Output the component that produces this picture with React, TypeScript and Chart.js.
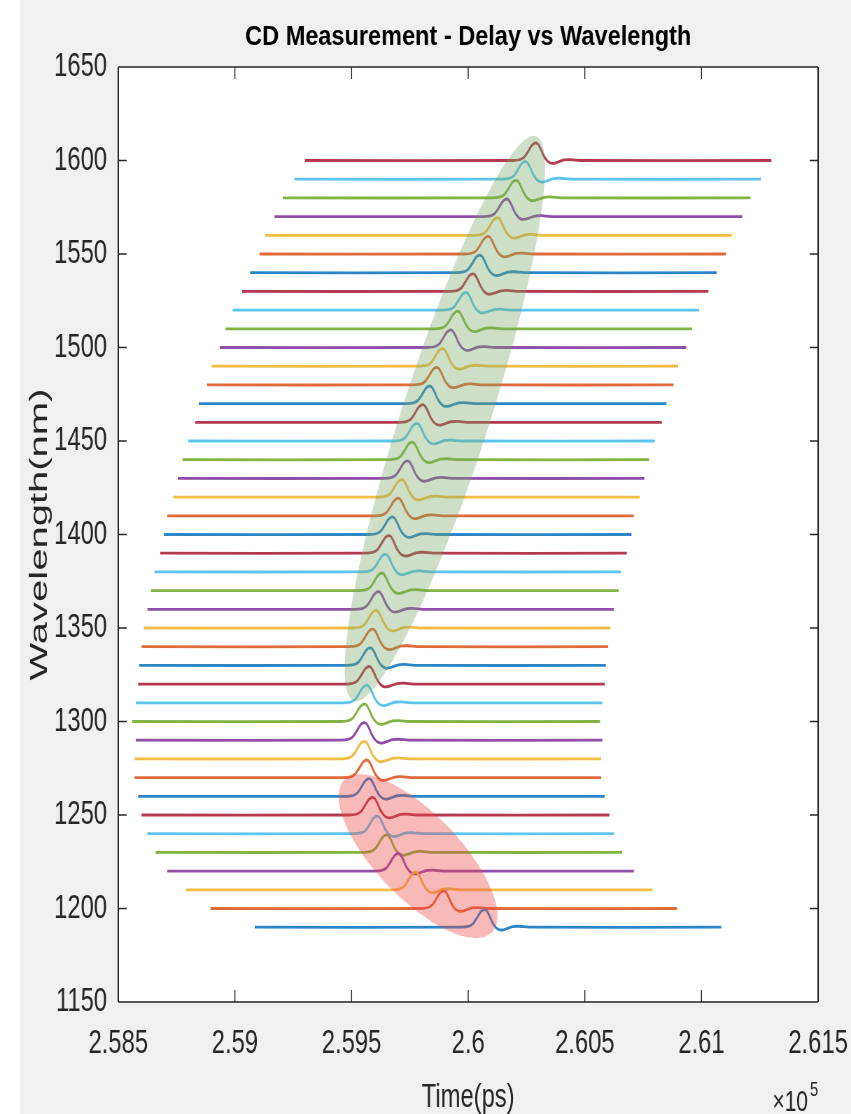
import React, { useEffect, useRef } from "react";
import { Chart, registerables } from "chart.js";

Chart.register(...registerables);

// ---------- data ----------
const WAVELENGTHS = [
  1190, 1200, 1210, 1220, 1230, 1240, 1250, 1260, 1270, 1280, 1290, 1300, 1310, 1320,
  1330, 1340, 1350, 1360, 1370, 1380, 1390, 1400, 1410, 1420, 1430, 1440, 1450, 1460,
  1470, 1480, 1490, 1500, 1510, 1520, 1530, 1540, 1550, 1560, 1570, 1580, 1590, 1600,
];

// trace start time (ps)
const START_PS = [
  259085, 258895, 258790, 258710, 258660, 258625, 258600, 258585, 258570, 258570, 258575,
  258560, 258575, 258585, 258590, 258600, 258610, 258625, 258640, 258655, 258680, 258695,
  258710, 258735, 258755, 258775, 258800, 258830, 258845, 258880, 258900, 258935, 258960,
  258990, 259030, 259065, 259105, 259130, 259170, 259205, 259255, 259300,
];

// pulse peak time (ps)
const PEAK_PS = [
  260070, 259895, 259775, 259700, 259650, 259610, 259590, 259575, 259565, 259555, 259555,
  259555, 259565, 259575, 259580, 259590, 259605, 259615, 259630, 259645, 259660, 259675,
  259700, 259715, 259740, 259760, 259780, 259805, 259835, 259865, 259890, 259925, 259955,
  259990, 260020, 260050, 260085, 260125, 260165, 260205, 260245, 260290,
];

// trace end time (ps)
const END_PS = [
  261085, 260895, 260790, 260710, 260660, 260625, 260605, 260585, 260570, 260570, 260575,
  260565, 260575, 260585, 260590, 260600, 260610, 260625, 260645, 260655, 260680, 260700,
  260710, 260735, 260755, 260775, 260800, 260830, 260850, 260880, 260900, 260935, 260960,
  260990, 261030, 261065, 261105, 261130, 261175, 261210, 261255, 261300,
];

// pulse shape: time offset from peak (ps) and height (nm)
const PULSE_DT = [-100, -70, -50, -35, -20, -9, 0, 9, 20, 32, 45, 60, 75, 95, 120, 150, 190];
const PULSE_DW = [0, 0.4, 1.8, 4.5, 7.6, 9.0, 9.4, 8.8, 6.4, 3.0, 0.4, -1.2, -1.5, -0.8, 0.3, 0.5, 0];

const X_MIN = 258500;
const X_MAX = 261500;
const X_STEP = 500;
const Y_MIN = 1150;
const Y_MAX = 1650;
const Y_STEP = 50;

const LINE_COLORS = ["#2b86c8", "#e06a3a", "#efbd45", "#8f4ea8", "#80b443", "#5cc4ee", "#b2394f"];

// highlighted regions (centre and end of major axis, in data units)
const GREEN_CENTER = [259900, 1462];
const GREEN_TIP = [260290, 1613];
const RED_CENTER = [259785, 1228];
const RED_TIP = [260100, 1187];

// ---------- layout ----------
const CANVAS_W = 1216;
const CANVAS_H = 1114;
const SQ = 851 / CANVAS_W; // horizontal squeeze of the picture
const FONT = "'Liberation Sans', Arial, sans-serif";
const AXIS_COLOR = "#262626";

function ellipse(chart: any, center: number[], tip: number[], minorPx: number, fill: string) {
  const { ctx } = chart;
  const xs = chart.scales.x;
  const ys = chart.scales.y;
  const cx = xs.getPixelForValue(center[0]) * SQ;
  const cy = ys.getPixelForValue(center[1]);
  const tx = xs.getPixelForValue(tip[0]) * SQ;
  const ty = ys.getPixelForValue(tip[1]);
  const a = Math.hypot(tx - cx, ty - cy);
  const ang = Math.atan2(ty - cy, tx - cx);
  ctx.save();
  ctx.scale(1 / SQ, 1);
  ctx.beginPath();
  ctx.ellipse(cx, cy, a, minorPx, ang, 0, Math.PI * 2);
  ctx.fillStyle = fill;
  ctx.fill();
  ctx.restore();
}

const matlabPlugin = {
  id: "matlabLook",
  beforeDraw(chart: any) {
    const { ctx, chartArea: a } = chart;
    ctx.save();
    ctx.fillStyle = "#f0f0f0";
    ctx.fillRect(0, 0, chart.width, chart.height);
    ctx.fillStyle = "#ffffff";
    ctx.fillRect(0, 0, 20 / SQ, chart.height);
    ctx.fillRect(a.left, a.top, a.right - a.left, a.bottom - a.top);
    ctx.restore();
  },
  afterDatasetsDraw(chart: any) {
    ellipse(chart, GREEN_CENTER, GREEN_TIP, 44, "rgba(120,165,100,0.36)");
    ellipse(chart, RED_CENTER, RED_TIP, 42, "rgba(236,70,70,0.38)");
  },
  afterDraw(chart: any) {
    const { ctx, chartArea: a } = chart;
    const xs = chart.scales.x;
    const ys = chart.scales.y;
    const tick = 12;
    ctx.save();
    ctx.strokeStyle = AXIS_COLOR;
    ctx.lineWidth = 1.4;
    ctx.beginPath();
    ctx.moveTo(a.left, a.top);
    ctx.lineTo(a.right, a.top);
    ctx.moveTo(a.left, a.bottom);
    ctx.lineTo(a.right, a.bottom);
    xs.ticks.forEach((t: any) => {
      const px = xs.getPixelForValue(t.value);
      ctx.moveTo(px, a.bottom);
      ctx.lineTo(px, a.bottom - tick);
      ctx.moveTo(px, a.top);
      ctx.lineTo(px, a.top + tick);
    });
    ys.ticks.forEach((t: any) => {
      const py = ys.getPixelForValue(t.value);
      ctx.moveTo(a.left, py);
      ctx.lineTo(a.left + tick, py);
      ctx.moveTo(a.right, py);
      ctx.lineTo(a.right - tick, py);
    });
    ctx.stroke();
    ctx.lineWidth = 1.4 / SQ;
    ctx.beginPath();
    ctx.moveTo(a.left, a.top);
    ctx.lineTo(a.left, a.bottom);
    ctx.moveTo(a.right, a.top);
    ctx.lineTo(a.right, a.bottom);
    ctx.stroke();
    ctx.restore();

    // title
    ctx.save();
    ctx.fillStyle = "#000000";
    ctx.font = `bold 28px ${FONT}`;
    ctx.textAlign = "center";
    ctx.textBaseline = "alphabetic";
    ctx.translate((a.left + a.right) / 2, 45);
    ctx.scale(1.2, 1);
    ctx.fillText("CD Measurement - Delay vs Wavelength", 0, 0);
    ctx.restore();

    // y axis title
    ctx.save();
    ctx.fillStyle = AXIS_COLOR;
    ctx.font = `40px ${FONT}`;
    ctx.textAlign = "center";
    ctx.textBaseline = "alphabetic";
    ctx.translate(47 / SQ, (a.top + a.bottom) / 2);
    ctx.rotate(-Math.PI / 2);
    ctx.scale(1, 0.6 / 0.7);
    ctx.fillText("Wavelength(nm)", 0, 0);
    ctx.restore();

    // exponent
    ctx.save();
    ctx.fillStyle = AXIS_COLOR;
    ctx.textBaseline = "alphabetic";
    ctx.textAlign = "right";
    ctx.font = `30px ${FONT}`;
    ctx.fillText("\u00d710", 808 / SQ, 1111);
    ctx.textAlign = "left";
    ctx.font = `21px ${FONT}`;
    ctx.fillText("5", 810 / SQ, 1096);
    ctx.restore();
  },
};

function buildDatasets() {
  return WAVELENGTHS.map((w, i) => {
    const pts = [{ x: START_PS[i], y: w }];
    PULSE_DT.forEach((dt, k) => pts.push({ x: PEAK_PS[i] + dt, y: w + PULSE_DW[k] }));
    pts.push({ x: END_PS[i], y: w });
    return {
      label: `${w} nm`,
      data: pts,
      borderColor: LINE_COLORS[i % LINE_COLORS.length],
      borderWidth: 2.8,
      pointRadius: 0,
      tension: 0.3,
      fill: false,
    };
  });
}

export default function App() {
  const ref = useRef<HTMLCanvasElement>(null);
  useEffect(() => {
    const canvas = ref.current;
    if (!canvas) return;
    const chart = new Chart(canvas, {
      type: "line",
      data: { datasets: buildDatasets() as any },
      options: {
        animation: false,
        responsive: false,
        devicePixelRatio: 1,
        layout: { padding: { top: 67, right: 47, left: 0, bottom: 0 } },
        plugins: {
          legend: { display: false },
          tooltip: { enabled: false },
          title: { display: false },
        },
        scales: {
          x: {
            type: "linear",
            min: X_MIN,
            max: X_MAX,
            grid: { display: false, drawTicks: false },
            border: { display: false },
            ticks: {
              stepSize: X_STEP,
              autoSkip: false,
              maxRotation: 0,
              padding: 21,
              color: AXIS_COLOR,
              font: { family: FONT, size: 34 },
              callback: (v: any) => String(Number((Number(v) / 1e5).toFixed(3))),
            },
            title: {
              display: true,
              text: "Time(ps)",
              color: AXIS_COLOR,
              font: { family: FONT, size: 34 },
              padding: { top: 0, bottom: -4 },
            },
            afterFit: (s: any) => {
              s.height = 112;
              s.paddingLeft = 0;
              s.paddingRight = 0;
            },
          },
          y: {
            type: "linear",
            min: Y_MIN,
            max: Y_MAX,
            grid: { display: false, drawTicks: false },
            border: { display: false },
            ticks: {
              stepSize: Y_STEP,
              padding: 16,
              color: AXIS_COLOR,
              font: { family: FONT, size: 34 },
              callback: (v: any) => String(v),
            },
            afterFit: (s: any) => {
              s.width = 169;
              s.paddingTop = 0;
              s.paddingBottom = 0;
            },
          },
        },
      },
      plugins: [matlabPlugin],
    } as any);
    return () => chart.destroy();
  }, []);
  return (
    <div style={{ position: "absolute", left: 0, top: 0, width: 851, height: 1114 }}>
      <canvas
        ref={ref}
        width={CANVAS_W}
        height={CANVAS_H}
        style={{ width: "851px", height: "1114px", display: "block" }}
      />
    </div>
  );
}
